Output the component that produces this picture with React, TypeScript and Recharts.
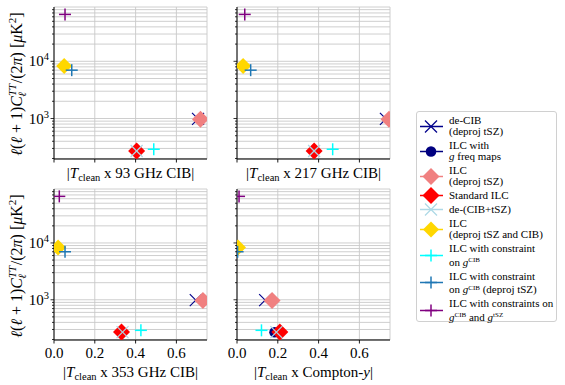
import React from 'react';
import { ScatterChart, Scatter, XAxis, YAxis, CartesianGrid } from 'recharts';

const FONT = "'Liberation Serif', 'DejaVu Serif', serif";

const SERIES_NAMES = [
  'de-CIB (deproj tSZ)',
  'ILC with g freq maps',
  'ILC (deproj tSZ)',
  'Standard ILC',
  'de-(CIB+tSZ)',
  'ILC (deproj tSZ and CIB)',
  'ILC with constraint on gCIB',
  'ILC with constraint on gCIB (deproj tSZ)',
  'ILC with constraints on gCIB and gtSZ',
];
const SERIES_Y = [985, 268, 975, 270, 270, 8300, 290, 7000, 66000];
const X_93GHZ = [0.706, 0.405, 0.718, 0.405, 0.405, 0.05, 0.489, 0.087, 0.054];
const X_217GHZ = [0.73, 0.378, 0.745, 0.378, 0.378, 0.03, 0.469, 0.067, 0.038];
const X_353GHZ = [0.695, 0.331, 0.73, 0.331, 0.336, 0.02, 0.426, 0.054, 0.026];
const X_COMPTON_Y = [0.138, 0.184, 0.172, 0.21, 0.193, 0.005, 0.12, 0.003, 0.01];

const X_TICKS = [0, 0.2, 0.4, 0.6];
const Y_MAJOR_TICKS = [1000, 10000];
const Y_MINOR_TICKS = [
  200, 300, 400, 500, 600, 700, 800, 900,
  2000, 3000, 4000, 5000, 6000, 7000, 8000, 9000,
  20000, 30000, 40000, 50000, 60000, 70000, 80000,
];
const Y_ALL_TICKS = [...Y_MINOR_TICKS, ...Y_MAJOR_TICKS].sort((a, b) => a - b);

const MARKER_KIND = ['x', 'circle', 'diamond', 'diamond', 'x', 'diamond', 'plus', 'plus', 'plus'];
const COLORS = ['#00008b', '#000080', '#f08080', '#ff0000', '#add8e6', '#ffd700', '#00ffff', '#1f77b4', '#800080'];
const SIZES = [6, 5.3, 8.5, 8.5, 6, 8, 6, 6, 6];

function drawMarker(kind: string, cx: number, cy: number, color: string, s: number) {
  switch (kind) {
    case 'x':
      return (
        <g stroke={color} strokeWidth={1.2}>
          <line x1={cx - s} y1={cy - s} x2={cx + s} y2={cy + s} />
          <line x1={cx - s} y1={cy + s} x2={cx + s} y2={cy - s} />
        </g>
      );
    case 'circle':
      return <circle cx={cx} cy={cy} r={s} fill={color} />;
    case 'diamond':
      return (
        <polygon
          points={`${cx},${cy - s} ${cx + s},${cy} ${cx},${cy + s} ${cx - s},${cy}`}
          fill={color}
        />
      );
    default:
      return (
        <g stroke={color} strokeWidth={1.5}>
          <line x1={cx - s} y1={cy} x2={cx + s} y2={cy} />
          <line x1={cx} y1={cy - s} x2={cx} y2={cy + s} />
        </g>
      );
  }
}

const XTick = (props: any) => {
  const { x, y, payload, showLabel } = props;
  return (
    <g>
      <line x1={x} x2={x} y1={y} y2={y + 3.5} stroke="#000" strokeWidth={0.9} />
      {showLabel && (
        <text x={x} y={y + 17.5} textAnchor="middle" fontFamily={FONT} fontSize={15} fill="#000">
          {Number(payload.value).toFixed(1)}
        </text>
      )}
    </g>
  );
};

const YTick = (props: any) => {
  const { x, y, payload, showLabel } = props;
  const v = payload.value;
  const major = Y_MAJOR_TICKS.includes(v);
  const len = major ? 3.5 : 2;
  return (
    <g>
      <line x1={x - len} x2={x} y1={y} y2={y} stroke="#000" strokeWidth={0.8} />
      {major && showLabel && (
        <text x={x - 5} y={y + 5} textAnchor="end" fontFamily={FONT} fontSize={15} fill="#000">
          10
          <tspan dy={-6} fontSize={10.5}>
            {Math.round(Math.log10(v))}
          </tspan>
        </text>
      )}
    </g>
  );
};

function Panel({ xs, left, top, height, showXLabels, showYLabels }: any) {
  const plotW = 153;
  const data = SERIES_NAMES.map((name, i) => ({ name, x: xs[i], y: SERIES_Y[i] }));
  return (
    <div style={{ position: 'absolute', left: 0, top: 0 }}>
      <ScatterChart
        width={565}
        height={385}
        margin={{ top, left: left - 40, right: 565 - left - plotW, bottom: 385 - top - height - 30 }}
      >
        <CartesianGrid stroke="#c8c8c8" strokeWidth={0.9} />
        <XAxis
          dataKey="x"
          type="number"
          domain={[0, 0.75]}
          ticks={X_TICKS}
          interval={0}
          allowDataOverflow
          height={30}
          tickSize={0}
          tickMargin={0}
          tickLine={false}
          axisLine={{ stroke: '#000' }}
          tick={<XTick showLabel={showXLabels} />}
        />
        <XAxis
          xAxisId="top"
          orientation="top"
          type="number"
          domain={[0, 0.75]}
          height={0}
          tick={false}
          tickLine={false}
          axisLine={{ stroke: '#000' }}
        />
        <YAxis
          dataKey="y"
          type="number"
          scale="log"
          domain={[196, 89000]}
          ticks={Y_ALL_TICKS}
          interval={0}
          allowDataOverflow
          width={40}
          tickSize={0}
          tickMargin={0}
          tickLine={false}
          axisLine={{ stroke: '#000' }}
          tick={<YTick showLabel={showYLabels} />}
        />
        <YAxis
          yAxisId="right"
          orientation="right"
          type="number"
          domain={[0, 1]}
          width={0}
          tick={false}
          tickLine={false}
          axisLine={{ stroke: '#000' }}
        />
        {data.map((d, i) => (
          <Scatter
            key={d.name}
            name={d.name}
            data={[d]}
            isAnimationActive={false}
            shape={(p: any) => drawMarker(MARKER_KIND[i], p.cx, p.cy, COLORS[i], SIZES[i])}
          />
        ))}
      </ScatterChart>
    </div>
  );
}

function XLabel({ x, y, what, italicTail }: any) {
  return (
    <text x={x} y={y} textAnchor="middle" fontFamily={FONT} fontSize={15} fill="#000">
      |<tspan fontStyle="italic">T</tspan>
      <tspan fontSize={10.5} dy={3}>clean</tspan>
      <tspan dy={-3}>{' x ' + what}</tspan>
      {italicTail && <tspan fontStyle="italic">{italicTail}</tspan>}|
    </text>
  );
}

function YLabel({ cy }: any) {
  return (
    <text
      transform={`translate(22,${cy}) rotate(-90)`}
      textAnchor="middle"
      fontFamily={FONT}
      fontSize={16}
      fill="#000"
    >
      <tspan fontStyle="italic">ℓ</tspan>(<tspan fontStyle="italic">ℓ</tspan>
      {' + 1)'}
      <tspan fontStyle="italic">C</tspan>
      <tspan fontSize={11} dy={-6} fontStyle="italic">TT</tspan>
      <tspan fontSize={11} dy={10} dx={-13} fontStyle="italic">ℓ</tspan>
      <tspan dy={-4} dx={9}>/(2</tspan>
      <tspan fontStyle="italic">π</tspan>
      {') ['}
      <tspan fontStyle="italic">μ</tspan>K
      <tspan fontSize={11} dy={-6}>2</tspan>
      <tspan dy={6}>]</tspan>
    </text>
  );
}

const Sup = ({ children }: any) => (
  <span style={{ fontSize: 7, position: 'relative', top: -3.5, lineHeight: 0 }}>{children}</span>
);

const LEGEND_LINES: any[] = [
  ['de-CIB', '(deproj tSZ)'],
  ['ILC with', <><i>g</i> freq maps</>],
  ['ILC', '(deproj tSZ)'],
  ['Standard ILC'],
  ['de-(CIB+tSZ)'],
  ['ILC', '(deproj tSZ and CIB)'],
  ['ILC with constraint', <>on <i>g</i><Sup>CIB</Sup></>],
  ['ILC with constraint', <>on <i>g</i><Sup>CIB</Sup> (deproj tSZ)</>],
  ['ILC with constraints on', <><i>g</i><Sup>CIB</Sup> and <i>g</i><Sup>tSZ</Sup></>],
];
const LEGEND_HAS_SUP = [false, false, false, false, false, false, true, true, true];

function LegendBox() {
  return (
    <div
      style={{
        position: 'absolute',
        left: 416,
        top: 111,
        width: 141,
        height: 211,
        boxSizing: 'border-box',
        border: '1px solid #d0d0d0',
        borderRadius: 3,
        background: '#fff',
        fontFamily: FONT,
        fontSize: 11,
        lineHeight: '11px',
        paddingTop: 3,
        color: '#000',
      }}
    >
      {LEGEND_LINES.map((lines, i) => (
        <div key={i} style={{ display: 'flex', alignItems: 'center', marginBottom: 3 }}>
          <svg width={32} height={11} style={{ overflow: 'visible', flex: '0 0 32px' }}>
            <line x1={3} x2={26} y1={5.5} y2={5.5} stroke={COLORS[i]} strokeWidth={1.5} />
            {drawMarker(MARKER_KIND[i], 14, 5.5, COLORS[i], SIZES[i])}
          </svg>
          <div style={{ whiteSpace: 'nowrap' }}>
            {lines.map((l: any, j: number) => (
              <div
                key={j}
                style={{ height: 11, paddingTop: LEGEND_HAS_SUP[i] && j === 1 ? 2.5 : 0 }}
              >
                {l}
              </div>
            ))}
          </div>
        </div>
      ))}
    </div>
  );
}

export default function App() {
  return (
    <div style={{ position: 'absolute', left: 0, top: 0, width: 565, height: 385, background: '#fff' }}>
      <Panel xs={X_93GHZ} left={54} top={7} height={152} showXLabels={false} showYLabels={true} />
      <Panel xs={X_217GHZ} left={237} top={7} height={152} showXLabels={false} showYLabels={false} />
      <Panel xs={X_353GHZ} left={54} top={189} height={151} showXLabels={true} showYLabels={true} />
      <Panel xs={X_COMPTON_Y} left={237} top={189} height={151} showXLabels={true} showYLabels={false} />
      <svg
        width={565}
        height={385}
        style={{ position: 'absolute', left: 0, top: 0, pointerEvents: 'none' }}
      >
        <XLabel x={130.5} y={177.5} what="93 GHz CIB" />
        <XLabel x={313.5} y={177.5} what="217 GHz CIB" />
        <XLabel x={130.5} y={376.5} what="353 GHz CIB" />
        <XLabel x={313.5} y={376.5} what="Compton-" italicTail="y" />
        <YLabel cy={84} />
        <YLabel cy={266} />
      </svg>
      <LegendBox />
    </div>
  );
}
